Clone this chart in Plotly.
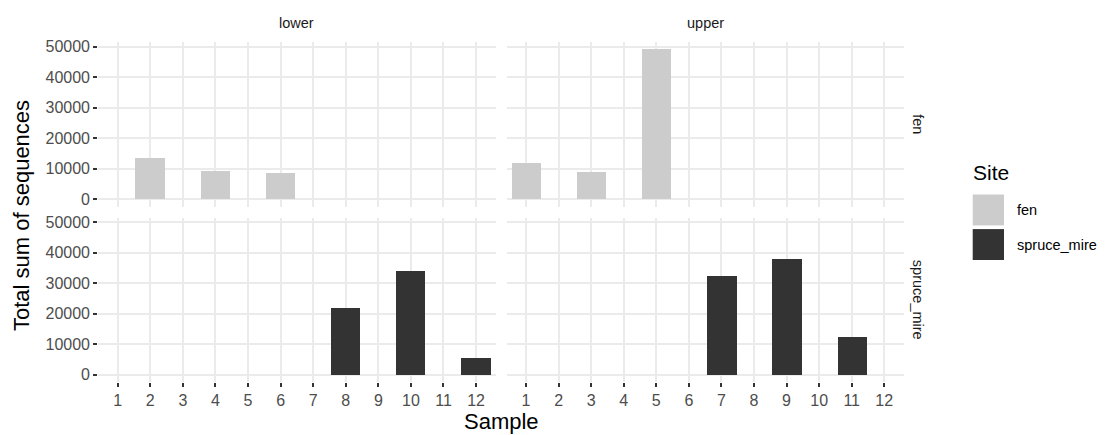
import plotly.graph_objects as go
from plotly.subplots import make_subplots

# ---- data ----
samples = list(range(1, 13))
y_ticks = [0, 10000, 20000, 30000, 40000, 50000]
columns = ["lower", "upper"]
rows = ["fen", "spruce_mire"]
site_colors = {"fen": "#CCCCCC", "spruce_mire": "#333333"}

lower_fen_samples = [2, 4, 6]
lower_fen_values = [13500, 9200, 8600]
upper_fen_samples = [1, 3, 5]
upper_fen_values = [11900, 9000, 49100]
lower_spruce_samples = [8, 10, 12]
lower_spruce_values = [22000, 34300, 5800]
upper_spruce_samples = [7, 9, 11]
upper_spruce_values = [32600, 38000, 12600]

panels = [
    (1, 1, "fen", lower_fen_samples, lower_fen_values),
    (1, 2, "fen", upper_fen_samples, upper_fen_values),
    (2, 1, "spruce_mire", lower_spruce_samples, lower_spruce_values),
    (2, 2, "spruce_mire", upper_spruce_samples, upper_spruce_values),
]

W, H = 1116, 435
FONT = "Liberation Sans, Arial, sans-serif"

fig = make_subplots(rows=2, cols=2)

for r, c, site, xs, ys in panels:
    fig.add_trace(
        go.Bar(x=xs, y=ys, width=0.9, marker=dict(color=site_colors[site], line=dict(width=0)),
               name=site, showlegend=False, hoverinfo="x+y"),
        row=r, col=c,
    )

all_vals = lower_fen_values + upper_fen_values + lower_spruce_values + upper_spruce_values
vmax = max(all_vals)
yr = [-0.05 * vmax, 1.05 * vmax]

def px_x(p):
    return p / W

def px_y(p):
    return 1 - p / H

x_domains = [[px_x(98.2), px_x(495.6)], [px_x(506.5), px_x(903.8)]]
y_domains = [[px_y(204.9), px_y(38.4)], [px_y(382.6), px_y(216.0)]]

grid_col = "#EBEBEB"
tick_col = "#333333"
tick_font = dict(family=FONT, size=16, color="#4D4D4D")

for r in (1, 2):
    for c in (1, 2):
        fig.update_xaxes(
            row=r, col=c, domain=x_domains[c - 1], range=[0.4, 12.6],
            tickmode="array", tickvals=samples, ticktext=[str(s) for s in samples],
            showgrid=True, gridcolor=grid_col, gridwidth=1.6, zeroline=False,
            showline=False, showticklabels=(r == 2),
            ticks="outside" if r == 2 else "", ticklen=4, tickwidth=1.6, tickcolor=tick_col,
            tickfont=tick_font, fixedrange=True,
        )
        fig.update_yaxes(
            row=r, col=c, domain=y_domains[r - 1], range=yr,
            tickmode="array", tickvals=y_ticks, ticktext=[str(v) for v in y_ticks],
            showgrid=True, gridcolor=grid_col, gridwidth=1.6, zeroline=False,
            showline=False, showticklabels=(c == 1),
            ticks="outside" if c == 1 else "", ticklen=4, tickwidth=1.6, tickcolor=tick_col,
            tickfont=tick_font, fixedrange=True,
        )

annotations = []
strip_font = dict(family=FONT, size=14.5, color="#1A1A1A")
# column strips
for i, name in enumerate(columns):
    annotations.append(dict(
        x=sum(x_domains[i]) / 2, y=px_y(19.5), xref="paper", yref="paper",
        text=name, showarrow=False, font=strip_font, xanchor="center", yanchor="middle"))
# row strips
for i, name in enumerate(rows):
    annotations.append(dict(
        x=px_x(918), y=sum(y_domains[i]) / 2, xref="paper", yref="paper",
        text=name, showarrow=False, font=strip_font, textangle=90,
        xanchor="center", yanchor="middle"))
# axis titles
title_font = dict(family=FONT, size=22, color="#000000")
annotations.append(dict(
    x=px_x(21), y=px_y(214.5), xref="paper", yref="paper",
    text="Total sum of sequences", showarrow=False, font=title_font, textangle=-90,
    xanchor="center", yanchor="middle"))
annotations.append(dict(
    x=(x_domains[0][0] + x_domains[1][1]) / 2, y=px_y(422), xref="paper", yref="paper",
    text="Sample", showarrow=False, font=title_font, xanchor="center", yanchor="middle"))

# legend (drawn manually to match ggplot key size)
shapes = []
annotations.append(dict(
    x=px_x(971), y=px_y(170), xref="paper", yref="paper", text="Site", showarrow=False,
    font=dict(family=FONT, size=21, color="#000000"), xanchor="left", yanchor="middle"))
key_tops = [192.7, 227.7]
for site, top in zip(rows, key_tops):
    shapes.append(dict(
        type="rect", xref="paper", yref="paper",
        x0=px_x(972.7), x1=px_x(1004), y0=px_y(top + 31.3), y1=px_y(top),
        fillcolor=site_colors[site], line=dict(width=0)))
    annotations.append(dict(
        x=px_x(1015), y=px_y(top + 15.7), xref="paper", yref="paper", text=site,
        showarrow=False, font=dict(family=FONT, size=14.5, color="#000000"),
        xanchor="left", yanchor="middle"))

fig.update_layout(
    width=W, height=H, margin=dict(l=0, r=0, t=0, b=0),
    paper_bgcolor="white", plot_bgcolor="white",
    annotations=annotations, shapes=shapes, bargap=0, showlegend=False,
    font=dict(family=FONT),
)

fig.write_html(
    "out.html",
    config={"displayModeBar": False},
    post_script="document.body.style.margin='0';document.body.style.overflow='hidden';",
)
